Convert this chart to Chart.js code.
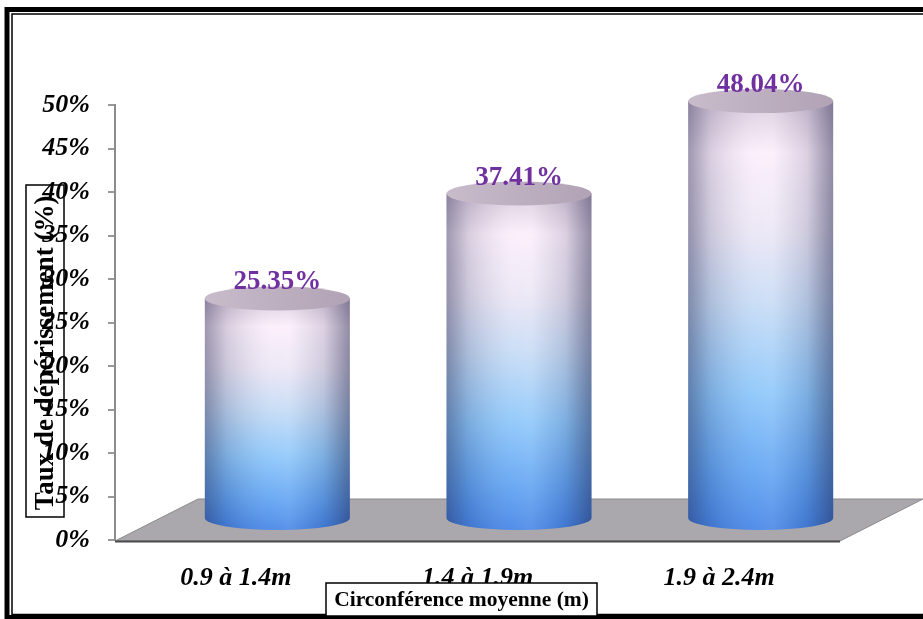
<!DOCTYPE html>
<html>
<head>
<meta charset="utf-8">
<script src="https://cdn.jsdelivr.net/npm/chart.js@4.4.1/dist/chart.umd.min.js"></script>
<style>
  html, body { margin: 0; padding: 0; background: #fff; }
  canvas { display: block; }
</style>
</head>
<body>
<canvas id="rateChart" width="923" height="619"></canvas>
<script>
// data
const categories = ["0.9 à 1.4m", "1.4 à 1.9m", "1.9 à 2.4m"];
const rates = [25.35, 37.41, 48.04];
const yTickStep = 5;
const yMax = 50;
const yTitle = "Taux de dépérissement (%)";
const xTitle = "Circonférence moyenne (m)";

const SERIF = '"Liberation Serif", "Times New Roman", serif';

// 3D floor depth (full), bars sit at half depth
const DEPTH_X = 83;
const DEPTH_Y = -42;

const floorPlugin = {
  id: "floor",
  beforeDatasetsDraw(chart) {
    const { ctx, chartArea: a } = chart;
    const b = a.bottom + 1;
    ctx.save();
    ctx.beginPath();
    ctx.moveTo(a.left, b);
    ctx.lineTo(a.right, b);
    ctx.lineTo(a.right + DEPTH_X, b + DEPTH_Y);
    ctx.lineTo(a.left + DEPTH_X, b + DEPTH_Y);
    ctx.closePath();
    ctx.fillStyle = "#aaa7ad";
    ctx.fill();
    ctx.strokeStyle = "#8a8a8c";
    ctx.lineWidth = 1;
    ctx.stroke();
    // dark front edge
    ctx.beginPath();
    ctx.moveTo(a.left, b + 0.5);
    ctx.lineTo(a.right, b + 0.5);
    ctx.strokeStyle = "#4a4a4a";
    ctx.lineWidth = 2;
    ctx.stroke();
    ctx.restore();
  }
};

const cylinderPlugin = {
  id: "cylinders",
  afterDatasetsDraw(chart) {
    const { ctx } = chart;
    const meta = chart.getDatasetMeta(0);
    const ry = 12;
    meta.data.forEach((bar, i) => {
      const cx = bar.x + DEPTH_X / 2;
      const top = bar.y + DEPTH_Y / 2;
      const base = bar.base + DEPTH_Y / 2;
      const rx = bar.width / 2;
      const left = cx - rx, right = cx + rx;

      ctx.save();
      const body = new Path2D();
      body.moveTo(left, top);
      body.lineTo(left, base);
      body.ellipse(cx, base, rx, ry, 0, Math.PI, 0, true);
      body.lineTo(right, top);
      body.closePath();

      const vg = ctx.createLinearGradient(0, top, 0, base + ry);
      vg.addColorStop(0, "#d8c9dc");
      vg.addColorStop(0.12, "#fbeefb");
      vg.addColorStop(0.3, "#ebe6f5");
      vg.addColorStop(0.48, "#c4daf5");
      vg.addColorStop(0.68, "#8cc6fa");
      vg.addColorStop(0.87, "#5fa2f2");
      vg.addColorStop(1, "#4484e6");
      ctx.fillStyle = vg;
      ctx.fill(body);

      const hg = ctx.createLinearGradient(left, 0, right, 0);
      hg.addColorStop(0, "rgba(30,30,70,0.42)");
      hg.addColorStop(0.15, "rgba(30,30,70,0.16)");
      hg.addColorStop(0.45, "rgba(255,255,255,0.08)");
      hg.addColorStop(0.58, "rgba(255,255,255,0.12)");
      hg.addColorStop(0.82, "rgba(30,30,70,0.14)");
      hg.addColorStop(1, "rgba(30,30,70,0.48)");
      ctx.fillStyle = hg;
      ctx.fill(body);

      // top cap
      const tg = ctx.createLinearGradient(left, 0, right, 0);
      tg.addColorStop(0, "#c8bbca");
      tg.addColorStop(1, "#b1a3b5");
      ctx.beginPath();
      ctx.ellipse(cx, top, rx, ry, 0, 0, Math.PI * 2);
      ctx.fillStyle = tg;
      ctx.fill();

      // value label
      ctx.font = "bold 27px " + SERIF;
      ctx.fillStyle = "#7030a0";
      ctx.textAlign = "center";
      ctx.textBaseline = "alphabetic";
      ctx.fillText(rates[i].toFixed(2) + "%", cx, top - 9);
      ctx.restore();
    });
  }
};

const framePlugin = {
  id: "frame",
  afterDraw(chart) {
    const { ctx } = chart;
    ctx.save();
    // outer double frame
    ctx.strokeStyle = "#000";
    ctx.lineWidth = 5;
    ctx.strokeRect(7, 9.5, 940, 608);
    ctx.lineWidth = 1.5;
    ctx.strokeRect(12, 14, 930, 600.5);

    // y title box
    ctx.lineWidth = 1.5;
    ctx.strokeRect(26, 185, 38, 332);
    ctx.translate(45, 353);
    ctx.rotate(-Math.PI / 2);
    ctx.font = "bold 27px " + SERIF;
    ctx.fillStyle = "#000";
    ctx.textAlign = "center";
    ctx.textBaseline = "middle";
    ctx.fillText(yTitle, 0, 1);
    ctx.setTransform(1, 0, 0, 1, 0, 0);

    // x title box
    ctx.fillStyle = "#fff";
    ctx.fillRect(326, 583, 271, 33);
    ctx.strokeRect(326, 583, 271, 33);
    ctx.font = "bold 21.5px " + SERIF;
    ctx.fillStyle = "#000";
    ctx.textAlign = "center";
    ctx.textBaseline = "middle";
    ctx.fillText(xTitle, 461.5, 600);
    ctx.restore();
  }
};

new Chart(document.getElementById("rateChart"), {
  type: "bar",
  data: {
    labels: categories,
    datasets: [{
      data: rates,
      backgroundColor: "rgba(0,0,0,0)",
      borderWidth: 0,
      barPercentage: 0.6,
      categoryPercentage: 1.0
    }]
  },
  options: {
    responsive: false,
    animation: false,
    events: [],
    layout: { padding: { left: 0, top: 105, right: 83, bottom: 0 } },
    plugins: {
      legend: { display: false },
      tooltip: { enabled: false }
    },
    scales: {
      x: {
        afterFit(scale) { scale.height = 79; },
        grid: { display: false, drawTicks: false },
        border: { display: false },
        ticks: {
          padding: 23,
          color: "#000",
          font: { family: SERIF, size: 26, weight: "bold", style: "italic" }
        }
      },
      y: {
        min: 0,
        max: yMax,
        afterFit(scale) { scale.width = 115; },
        grid: { drawOnChartArea: false, drawTicks: true, tickLength: 7, color: "#999", lineWidth: 2 },
        border: { display: true, color: "#8c8c8c", width: 2 },
        ticks: {
          stepSize: yTickStep,
          padding: 18,
          color: "#000",
          font: { family: SERIF, size: 26, weight: "bold", style: "italic" },
          callback: (v) => v + "%"
        }
      }
    }
  },
  plugins: [floorPlugin, cylinderPlugin, framePlugin]
});
</script>
</body>
</html>
